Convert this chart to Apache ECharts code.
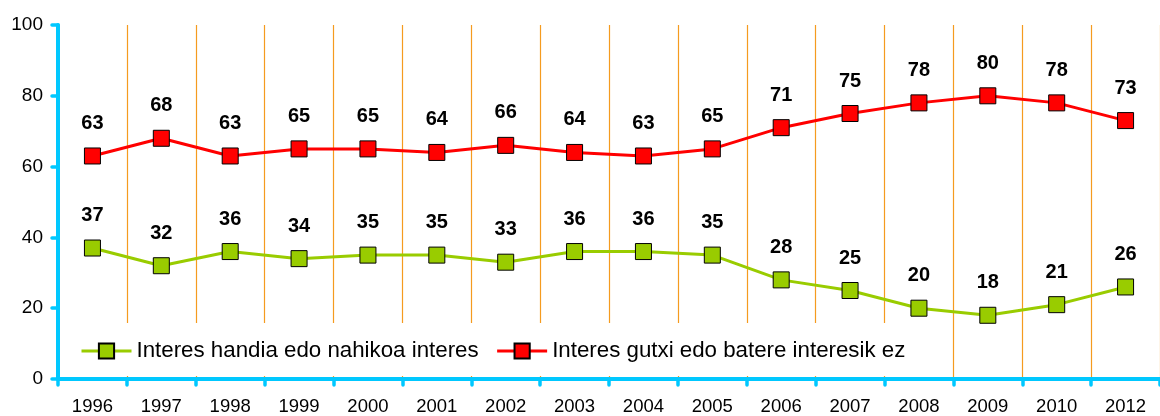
<!DOCTYPE html>
<html>
<head>
<meta charset="utf-8">
<script src="https://cdn.jsdelivr.net/npm/echarts@6/dist/echarts.min.js"></script>
<style>
html,body{margin:0;padding:0;background:#fff;}
#c{width:1160px;height:416px;}
</style>
</head>
<body>
<div id="c"></div>
<script>
const years = ['1996','1997','1998','1999','2000','2001','2002','2003','2004','2005','2006','2007','2008','2009','2010','2012'];
const greenName = 'Interes handia edo nahikoa interes';
const redName = 'Interes gutxi edo batere interesik ez';
const greenValues = [37,32,36,34,35,35,33,36,36,35,28,25,20,18,21,26];
const redValues = [63,68,63,65,65,64,66,64,63,65,71,75,78,80,78,73];
const yTicks = [0,20,40,60,80,100];

const FONT = '"Liberation Sans", Arial, sans-serif';
const AXIS = '#00C8FF';
const chart = echarts.init(document.getElementById('c'), null, {renderer:'canvas'});

function lineSeries(name, data, color) {
  return {
    name: name,
    type: 'line',
    data: data,
    symbol: 'rect',
    symbolSize: 16,
    lineStyle: {color: color, width: 3},
    itemStyle: {color: color, borderColor: '#000', borderWidth: 1},
    label: {
      show: true, position: 'top', distance: 14,
      color: '#000', fontWeight: 'bold', fontSize: 20, fontFamily: FONT
    },
    emphasis: {disabled: true},
    animation: false,
    z: 3
  };
}

chart.setOption({
  animation: false,
  backgroundColor: '#fff',
  grid: {left: 58, top: 25, width: 1110, height: 354, containLabel: false},
  legend: {
    left: 60, top: 323,
    padding: [17, 18, 14, 20],
    backgroundColor: '#fff',
    itemWidth: 50, itemHeight: 19, itemGap: 17,
    lineStyle: {width: 3},
    textStyle: {fontSize: 22.3, lineHeight: 22, color: '#000', fontFamily: FONT},
    data: [greenName, redName],
    selectedMode: false
  },
  xAxis: {
    type: 'category',
    data: years,
    boundaryGap: true,
    axisLine: {lineStyle: {color: AXIS, width: 4, cap: 'round'}},
    axisTick: {show: true, interval: 0, length: 6, lineStyle: {color: AXIS, width: 3.5, cap: 'round'}},
    axisLabel: {interval: 0, margin: 18, color: '#000', fontSize: 18.5, fontFamily: FONT},
    splitLine: {show: true, interval: 0, lineStyle: {color: '#F59B1F', width: 1.2}}
  },
  yAxis: {
    type: 'value',
    min: yTicks[0], max: yTicks[yTicks.length-1], interval: 20,
    axisLine: {show: true, lineStyle: {color: AXIS, width: 4, cap: 'round'}},
    axisTick: {show: true, length: 6, lineStyle: {color: AXIS, width: 3.5, cap: 'round'}},
    axisLabel: {margin: 15, color: '#000', fontSize: 19, fontFamily: FONT},
    splitLine: {show: false}
  },
  series: [
    lineSeries(greenName, greenValues, '#99CC00'),
    lineSeries(redName, redValues, '#FF0000')
  ]
});
</script>
</body>
</html>
